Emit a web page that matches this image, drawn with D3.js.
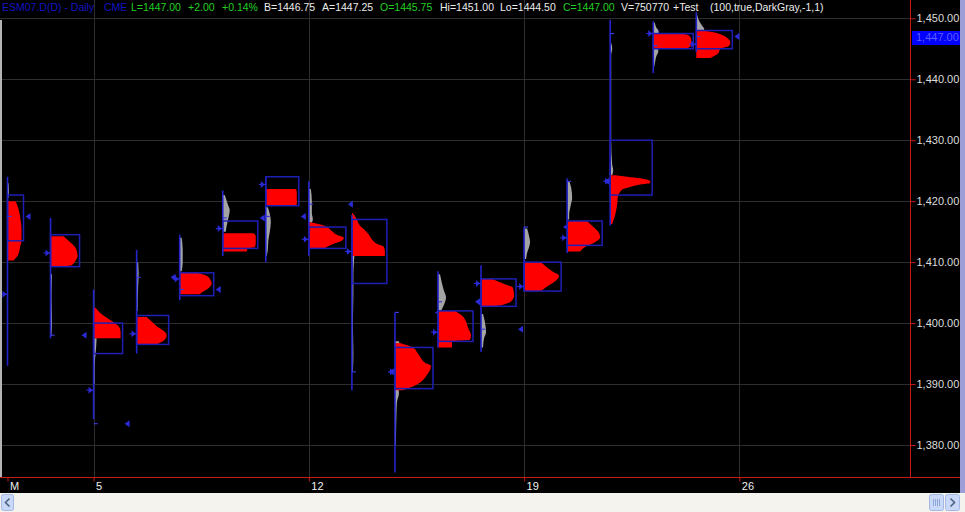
<!DOCTYPE html>
<html><head><meta charset="utf-8">
<script src="https://cdn.jsdelivr.net/npm/d3@7"></script>
<style>html,body{margin:0;padding:0;background:#000;overflow:hidden}</style>
</head><body>
<svg id="c" width="965" height="512"></svg>
<script>
// ---------------- DATA ----------------
const dates = ["2007-03-01","2007-03-02","2007-03-05","2007-03-06","2007-03-07","2007-03-08","2007-03-09",
  "2007-03-12","2007-03-13","2007-03-14","2007-03-15","2007-03-16","2007-03-19","2007-03-20","2007-03-21",
  "2007-03-22","2007-03-23"];
const dayTickIndex = [0, 2, 7, 12, 17];
const dayTickLabels = ["M", "5", "12", "19", "26"];
const priceTicks = [1380, 1390, 1400, 1410, 1420, 1430, 1440, 1450];
const lastPrice = 1447.00;

const highs  = [1424.0,1417.25,1405.5,1412.0,1414.5,1421.75,1424.0,1423.25,1417.75,1401.75,1408.5,1409.5,1415.75,1423.75,1449.75,1449.5,1451.0];
const lows   = [1393.0,1397.5,1384.25,1395.0,1403.75,1411.0,1410.0,1411.0,1389.0,1375.5,1396.0,1395.25,1405.25,1411.5,1416.0,1441.0,1444.5];
const opens  = [1404.75,1411.5,1389.0,1398.25,1407.25,1415.5,1422.75,1413.75,1411.75,1392.0,1398.5,1406.5,1406.0,1414.0,1423.25,1447.5,1445.75];
const closes = [1417.5,1398.0,1383.5,1407.5,1405.5,1417.25,1417.5,1419.5,1392.0,1401.75,1403.5,1399.0,1415.75,1423.25,1447.5,1445.5,1447.0];
const vaHighs = [1421.0,1414.5,1400.0,1401.25,1408.25,1416.75,1424.0,1415.75,1417.0,1396.0,1402.0,1407.25,1410.0,1416.75,1430.0,1447.5,1448.0];
const vaLows  = [1413.5,1409.25,1395.0,1396.5,1404.5,1412.25,1419.25,1412.25,1406.5,1389.25,1397.0,1402.75,1405.25,1412.75,1421.0,1445.0,1445.0];

// value-area volume profile: [price, relative volume]
const redProfiles = [
  [[1420,8],[1419.25,10],[1418,12],[1417,13],[1415.5,14],[1413.5,14],[1412.75,13],[1412,12],[1411,10],[1410.25,6]],
  [[1414.25,13],[1413.5,18],[1412.75,23],[1412,26],[1411,27],[1410.25,25],[1409.5,21],[1409.25,9]],
  [[1402.5,2],[1401.75,6],[1401,12],[1400,21],[1399.25,26],[1398.5,27],[1397.5,27]],
  [[1401,10],[1400.25,15],[1399.5,20],[1398.75,27],[1398,30],[1397.25,28],[1396.5,20]],
  [[1408.25,17],[1407.75,27],[1407,31],[1406.5,32],[1405.75,29],[1405,22],[1404.75,20]],
  [[1414.75,31],[1414.25,33],[1413,33],[1412.5,32],[1412.25,25],[1411.75,24]],
  [[1422,30],[1421.5,31],[1420,31],[1419.5,31],[1419.25,29]],
  [[1416.5,3],[1416,15],[1415.25,22],[1414.5,28],[1414,35],[1413.5,33],[1413,25],[1412.5,18],[1412.25,15]],
  [[1418,1],[1417,5],[1416,8],[1415.25,13],[1414.5,17],[1413.75,20],[1413,25],[1412.5,32],[1411.75,33],[1411,33]],
  [[1396.75,5],[1396,18],[1395.25,22],[1394.5,25],[1393.5,30],[1393,36],[1392.25,35],[1391.5,32],[1390.5,27],[1389.75,20],[1389,8]],
  [[1402,17],[1401.25,24],[1400.25,28],[1399.25,30],[1398,33],[1397.25,32],[1397,14],[1396,14]],
  [[1407.25,11],[1406.5,22],[1405.75,32],[1404.5,33],[1403.75,31],[1403,22],[1402.75,12]],
  [[1410,17],[1409.25,22],[1408.5,28],[1407.75,35],[1407,32],[1406,23],[1405.25,17]],
  [[1416.75,20],[1416.25,23],[1415.5,28],[1414.75,32],[1414,33],[1413.5,30],[1413,25],[1412.5,18],[1411.75,13]],
  [[1424.25,5],[1424,17],[1423.75,30],[1423.25,40],[1423,40],[1422.75,30],[1422.25,18],[1422,13],[1421.5,10],[1421,8],[1419.5,7],[1417.75,5],[1416.25,2]],
  [[1447.5,28],[1447.25,35],[1446.5,38],[1445.75,38],[1445.25,36],[1445,30]],
  [[1448,7],[1447.75,16],[1447.25,26],[1446.75,31],[1446,34],[1445.5,33],[1445,24],[1444.25,22],[1443.5,14]]
];
// full-session volume profile (DarkGray)
const grayProfiles = [
  [[1423,1],[1421.5,1.5],[1420.5,1]],
  [[1408,1.5],[1404,1],[1400,1.5],[1398,1]],
  [[1397.5,3],[1396,2.5],[1395,2],[1393,1],[1390,1]],
  [[1410,1.5],[1408,2],[1406,1.5],[1402,1]],
  [[1414,2],[1412,3],[1410,3],[1408.5,2]],
  [[1421,2],[1419.5,5],[1418.5,7],[1417.5,6],[1416,4],[1415,3]],
  [[1419,2],[1418.5,3],[1417.5,4.5],[1416.5,5],[1415,4],[1413.5,2.5],[1412,2],[1411,1]],
  [[1422,2],[1420,3],[1418,3],[1417,4],[1416.5,3]],
  [[1417.5,3],[1415,4],[1412,3],[1410,2],[1408,1.5],[1405,1.5],[1400,1],[1395,1.5],[1392,1]],
  [[1397,4],[1396,5],[1394,3],[1390,3],[1388.5,4],[1387,2],[1385,1.5],[1380,1]],
  [[1408,2],[1406.5,4],[1405.25,6],[1404.25,8],[1403,6],[1402,3]],
  [[1401.5,2],[1400,4],[1398.5,5],[1397.5,3],[1396,2]],
  [[1415.5,3],[1414.25,5],[1413.25,6],[1412.5,5],[1411.5,3],[1410.5,2]],
  [[1423.25,2],[1422.25,4],[1420.5,5],[1419.25,3.5],[1417.75,2],[1417,2]],
  [[1446,1],[1445,2],[1444,1],[1430,1],[1426,2],[1425,3],[1424.25,2]],
  [[1449.25,1.5],[1448.5,3],[1448,5],[1447.5,5],[1445,5],[1444.5,5],[1443.75,3],[1443,2],[1442,1]],
  [[1450.5,1],[1449.5,3],[1448.75,6],[1448.25,8],[1447.75,6]]
];

const headerTexts = ["ESM07.D(D) - Daily","CME","L=1447.00","+2.00","+0.14%","B=1446.75","A=1447.25",
  "O=1445.75","Hi=1451.00","Lo=1444.50","C=1447.00","V=750770","+Test","(100,true,DarkGray,-1,1)"];
const headerKinds = ["sym","sym","up","up","up","q","q","up","q","q","up","q","q","q"];

// ---------------- LAYOUT / STYLE ----------------
const W = 965, H = 512, plotRight = 910, plotBottom = 477;
const headerX = [2,104,131,188,222,264,322,380,440,500,563,621,673,710];
const kindColor = {sym:"#1414c4", up:"#22d022", q:"#ececec"};
const RED_AX = "#c81818", GRID = "#2e2e2e", BLUE = "#1e1eb4", MARK = "#2a2ad8";

const svg = d3.select("#c");
svg.append("rect").attr("width", W).attr("height", H).attr("fill", "#000");

const x = d3.scaleLinear().domain([0, 16]).range([7.5, 696.3]);
const y = d3.scaleLinear().domain([1380, 1450]).range([445, 18.3]);
const vx = d3.scaleLinear().domain([0, 40]).range([0, 40]);

// grid
svg.append("g").selectAll("line").data(priceTicks).join("line")
  .attr("x1", 0).attr("x2", plotRight)
  .attr("y1", d => Math.round(y(d)) + 0.5).attr("y2", d => Math.round(y(d)) + 0.5)
  .attr("stroke", GRID).attr("stroke-width", 1);
svg.append("g").selectAll("line").data(dayTickIndex.slice(1)).join("line")
  .attr("x1", d => Math.round(x(d)) + 0.5).attr("x2", d => Math.round(x(d)) + 0.5)
  .attr("y1", 0).attr("y2", plotBottom)
  .attr("stroke", GRID).attr("stroke-width", 1);

// profiles
const g = svg.append("g");
dates.forEach((dt, i) => {
  const x0 = x(i);
  const areaGen = d3.area().curve(d3.curveMonotoneY)
    .y(d => y(d[0])).x0(x0).x1(d => x0 + vx(d[1]));
  g.append("path").attr("d", areaGen(grayProfiles[i])).attr("fill", "#a4a4a4");
  g.append("path").attr("d", areaGen(redProfiles[i])).attr("fill", "#ff0000");
  // range line
  g.append("line").attr("x1", x0).attr("x2", x0)
    .attr("y1", y(highs[i])).attr("y2", y(lows[i]))
    .attr("stroke", "#2424cc").attr("stroke-width", 1.6);
  // value area box
  const bw = vx(d3.max(redProfiles[i], d => d[1])) + 2;
  g.append("rect").attr("x", x0).attr("y", y(vaHighs[i]))
    .attr("width", bw).attr("height", y(vaLows[i]) - y(vaHighs[i]))
    .attr("fill", "none").attr("stroke", BLUE).attr("stroke-width", 1.5);
  // close tick on bar
  const yc = y(closes[i]);
  g.append("line").attr("x1", x0).attr("x2", x0 + 4).attr("y1", yc).attr("y2", yc)
    .attr("stroke", "#3a3ad8").attr("stroke-width", 1.2);
  // close marker (right)
  const xr = x0 + bw + 2;
  g.append("path").attr("d", `M${xr},${yc} L${xr + 5},${yc - 3.5} L${xr + 5},${yc + 3.5} Z`)
    .attr("fill", MARK);
  // open marker (left)
  const yo = y(opens[i]);
  g.append("path").attr("d", `M${x0 - 1},${yo} L${x0 - 5},${yo - 3.5} L${x0 - 5},${yo + 3.5} Z`)
    .attr("fill", MARK);
  g.append("line").attr("x1", x0 - 7).attr("x2", x0).attr("y1", yo).attr("y2", yo)
    .attr("stroke", MARK).attr("stroke-width", 1.2);
});

// left window edge
svg.append("rect").attr("x", 0).attr("y", 20).attr("width", 2).attr("height", plotBottom - 20).attr("fill", "#b4b4b4");

// y axis
const yAxis = d3.axisRight(y).tickValues(priceTicks).tickFormat(d3.format(",.2f"))
  .tickSize(5).tickSizeOuter(0).tickPadding(1);
const ya = svg.append("g").attr("transform", `translate(${plotRight + 0.5},0)`).call(yAxis);
ya.select(".domain").remove();
ya.selectAll(".tick line").attr("stroke", RED_AX);
ya.selectAll(".tick text").attr("fill", "#dcdcdc")
  .style("font-family", "'Liberation Sans', Arial, sans-serif").style("font-size", "11px");
svg.append("line").attr("x1", plotRight + 0.5).attr("x2", plotRight + 0.5).attr("y1", 0).attr("y2", plotBottom)
  .attr("stroke", RED_AX).attr("stroke-width", 1);

// last price label
svg.append("rect").attr("x", 912).attr("y", 31).attr("width", 48).attr("height", 14).attr("fill", "#0000ff");
svg.append("text").attr("x", 916).attr("y", y(lastPrice) + 4).text(d3.format(",.2f")(lastPrice))
  .attr("fill", "#5c5cff").style("font-family", "'Liberation Sans', Arial, sans-serif").style("font-size", "11px");

// x axis
svg.append("rect").attr("x", 0).attr("y", plotBottom).attr("width", W).attr("height", 16).attr("fill", "#000");
const xAxis = d3.axisBottom(x).tickValues(dayTickIndex).tickFormat((d, k) => dayTickLabels[k])
  .tickSize(4).tickSizeOuter(0).tickPadding(1);
const xa = svg.append("g").attr("transform", `translate(0,${plotBottom + 0.5})`).call(xAxis);
xa.select(".domain").remove();
xa.selectAll(".tick line").attr("stroke", RED_AX);
xa.selectAll(".tick text").attr("fill", "#f0f0f0").attr("text-anchor", "start").attr("dx", 2)
  .style("font-family", "'Liberation Sans Narrow', 'Liberation Sans', Arial, sans-serif").style("font-size", "11px");
svg.append("line").attr("x1", 0).attr("x2", 960).attr("y1", plotBottom + 0.5).attr("y2", plotBottom + 0.5)
  .attr("stroke", RED_AX).attr("stroke-width", 1.2);

// header
const ht = svg.append("g").style("font-family", "'Liberation Sans', Arial, sans-serif").style("font-size", "10.5px");
headerTexts.forEach((t, k) => {
  ht.append("text").attr("x", headerX[k]).attr("y", 11).text(t).attr("fill", kindColor[headerKinds[k]]);
});

// right window edge
svg.append("rect").attr("x", 960).attr("y", 0).attr("width", 5).attr("height", 493).attr("fill", "#9d9dd8");

// scrollbar
svg.append("rect").attr("x", 0).attr("y", 493).attr("width", W).attr("height", 19).attr("fill", "#f4f3ee");
function btn(xp, w) {
  svg.append("rect").attr("x", xp).attr("y", 494.5).attr("width", w).attr("height", 16).attr("rx", 2)
    .attr("fill", "#c9d8f7").attr("stroke", "#a3b8e6");
}
btn(1.5, 12);
svg.append("path").attr("d", "M9.5,498.5 L5.5,502.5 L9.5,506.5").attr("fill", "none").attr("stroke", "#4d6185").attr("stroke-width", 1.6);
btn(929.5, 14);
[933.5, 935.5, 937.5, 939.5].forEach(xx => svg.append("line").attr("x1", xx).attr("x2", xx).attr("y1", 499).attr("y2", 506)
  .attr("stroke", "#8ea6d8").attr("stroke-width", 1));
btn(945.5, 14);
svg.append("path").attr("d", "M950.5,498.5 L954.5,502.5 L950.5,506.5").attr("fill", "none").attr("stroke", "#4d6185").attr("stroke-width", 1.6);
</script>
</body></html>
